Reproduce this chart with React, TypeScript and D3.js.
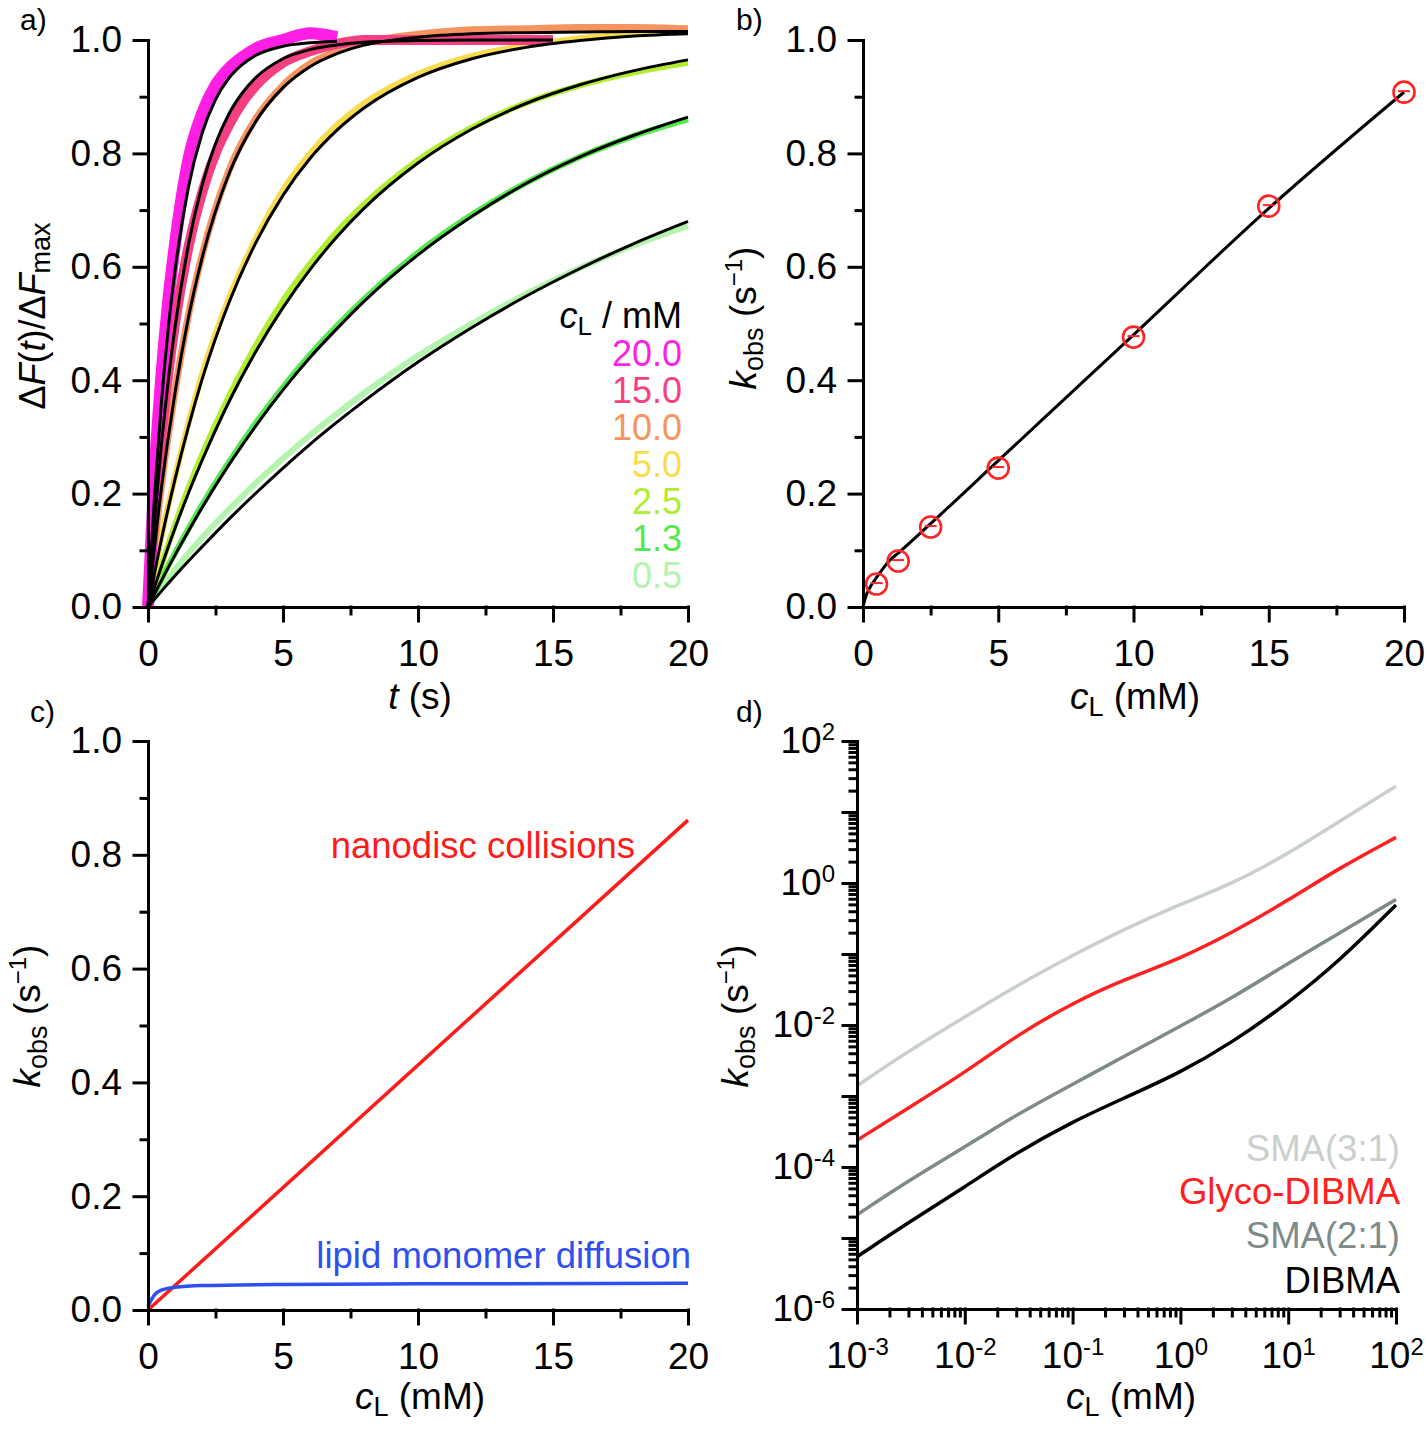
import * as d3 from 'd3';
import { useEffect, useRef } from 'react';

const FONT = "'Liberation Sans', Arial, Helvetica, sans-serif";
const WIDTH = 1427;
const HEIGHT = 1429;

// ---- a) normalised fluorescence traces, one per lipid concentration
const concLabels = ['20.0', '15.0', '10.0', '5.0', '2.5', '1.3', '0.5'];
const concColors = ['#ff1fe4', '#f43f83', '#f6945f', '#f8dc4c', '#b0ee2f', '#55e950', '#b4f4ae'];

const tShort = [0, 0.25, 0.5, 0.75, 1, 1.5, 2, 2.5, 3, 3.5, 4, 5, 6, 7];
const tMid = [0, 0.25, 0.5, 0.75, 1, 1.5, 2, 2.5, 3, 3.5, 4, 5, 6, 7, 8, 10, 12, 15];
const tLong = [0, 0.5, 1, 1.5, 2, 3, 4, 5, 6, 7, 8, 10, 12, 14, 16, 18, 20];

const fit20 = [0, 0.201, 0.362, 0.491, 0.593, 0.741, 0.835, 0.895, 0.933, 0.957, 0.973, 0.989, 0.995, 0.998];
const fit15 = [0, 0.156, 0.288, 0.399, 0.493, 0.639, 0.743, 0.817, 0.87, 0.907, 0.934, 0.967, 0.983, 0.991, 0.996, 0.999, 1.0, 1.0];
const fit10 = [0, 0.211, 0.378, 0.511, 0.615, 0.764, 0.857, 0.916, 0.953, 0.976, 0.991, 1.005, 1.011, 1.013, 1.014, 1.015, 1.015];
const fit5 = [0, 0.12, 0.225, 0.318, 0.401, 0.537, 0.643, 0.726, 0.791, 0.841, 0.88, 0.934, 0.967, 0.987, 0.999, 1.007, 1.011];
const fit2p5 = [0, 0.072, 0.139, 0.201, 0.258, 0.362, 0.451, 0.528, 0.595, 0.653, 0.703, 0.783, 0.843, 0.888, 0.921, 0.946, 0.965];
const fit1p3 = [0, 0.047, 0.0915, 0.134, 0.175, 0.251, 0.32, 0.383, 0.44, 0.491, 0.539, 0.621, 0.689, 0.747, 0.794, 0.832, 0.864];
const fit0p5 = [0, 0.028, 0.055, 0.081, 0.106, 0.155, 0.201, 0.245, 0.287, 0.326, 0.363, 0.432, 0.493, 0.548, 0.597, 0.641, 0.68];

const data20 = [0, 0.24, 0.41, 0.54, 0.64, 0.79, 0.87, 0.92, 0.95, 0.97, 0.985, 1.0, 1.012, 1.005];
const data15 = [0, 0.17, 0.3, 0.41, 0.5, 0.635, 0.73, 0.8, 0.85, 0.89, 0.92, 0.96, 0.98, 0.993, 1.0, 1.0, 1.0, 1.0];
const data10 = [0, 0.215, 0.38, 0.515, 0.62, 0.77, 0.862, 0.92, 0.958, 0.98, 0.995, 1.01, 1.018, 1.02, 1.022, 1.022, 1.02];
const data5 = [0, 0.125, 0.23, 0.325, 0.41, 0.545, 0.65, 0.735, 0.8, 0.85, 0.888, 0.94, 0.972, 0.99, 1.003, 1.01, 1.014];
const data2p5 = [0, 0.075, 0.145, 0.21, 0.268, 0.372, 0.462, 0.54, 0.605, 0.662, 0.71, 0.788, 0.846, 0.889, 0.92, 0.943, 0.96];
const data1p3 = [0, 0.05, 0.095, 0.138, 0.18, 0.256, 0.325, 0.388, 0.445, 0.496, 0.543, 0.625, 0.692, 0.748, 0.794, 0.831, 0.86];
const data0p5 = [0, 0.035, 0.066, 0.095, 0.122, 0.172, 0.219, 0.262, 0.303, 0.341, 0.377, 0.443, 0.5, 0.552, 0.598, 0.638, 0.672];

// ---- b) observed rate constants
const cObs = [0.5, 1.3, 2.5, 5, 10, 15, 20];
const kObs = [0.0405, 0.081, 0.141, 0.245, 0.476, 0.707, 0.908];
const cFitB = [0, 0.1, 0.25, 0.5, 1, 1.3, 2.5, 5, 10, 15, 20];
const kFitB = [0, 0.018, 0.034, 0.052, 0.083, 0.095, 0.147, 0.258, 0.48, 0.703, 0.908];

// ---- c) contributions to k_obs
const cNano = [0, 20];
const kNano = [0, 0.861];
const cLipid = [0, 0.1, 0.25, 0.5, 1, 2, 5, 10, 20];
const kLipid = [0.006, 0.016, 0.027, 0.035, 0.04, 0.043, 0.045, 0.046, 0.047];

// ---- d) simulated k_obs for the four polymers
const polymerNames = ['SMA(3:1)', 'Glyco-DIBMA', 'SMA(2:1)', 'DIBMA'];
const polymerColors = ['#c9cfcc', '#ff2020', '#7e8a87', '#000000'];
const cSim = [1e-3, 3e-3, 1e-2, 3e-2, 1e-1, 3e-1, 1, 3, 10, 30, 100];
const kSma31 = [1.39e-3, 4.3e-3, 1.3e-2, 3.55e-2, 9.6e-2, 0.223, 0.505, 0.968, 2.58, 7.43, 23.1];
const kGlyco = [2.38e-4, 6.8e-4, 2.13e-3, 7.08e-3, 2.05e-2, 4.37e-2, 8.63e-2, 0.198, 0.57, 1.64, 4.39];
const kSma21 = [2.12e-5, 6.4e-5, 1.9e-4, 5.47e-4, 1.46e-3, 3.61e-3, 9.64e-3, 2.39e-2, 7.41e-2, 0.198, 0.587];
const kDibma = [5.44e-6, 1.65e-5, 5.25e-5, 1.58e-4, 4.37e-4, 9.33e-4, 2.14e-3, 5.6e-3, 2.05e-2, 8.0e-2, 0.49];

const tracesA = [
    { label: concLabels[0], color: concColors[0], t: tShort, fit: fit20, data: data20, width: 12 },
    { label: concLabels[1], color: concColors[1], t: tMid, fit: fit15, data: data15, width: 10 },
    { label: concLabels[2], color: concColors[2], t: tLong, fit: fit10, data: data10, width: 7 },
    { label: concLabels[3], color: concColors[3], t: tLong, fit: fit5, data: data5, width: 6 },
    { label: concLabels[4], color: concColors[4], t: tLong, fit: fit2p5, data: data2p5, width: 6 },
    { label: concLabels[5], color: concColors[5], t: tLong, fit: fit1p3, data: data1p3, width: 6 },
    { label: concLabels[6], color: concColors[6], t: tLong, fit: fit0p5, data: data0p5, width: 6 },
];
const polymers = [
    { name: polymerNames[0], color: polymerColors[0], k: kSma31 },
    { name: polymerNames[1], color: polymerColors[1], k: kGlyco },
    { name: polymerNames[2], color: polymerColors[2], k: kSma21 },
    { name: polymerNames[3], color: polymerColors[3], k: kDibma },
];
const legendBaselineD = [1161, 1204, 1248, 1293];

// scales, one pair per panel
const xA = d3.scaleLinear([0, 20], [148, 688]);
const yA = d3.scaleLinear([0, 1], [607, 40]);
const xB = d3.scaleLinear([0, 20], [863, 1404]);
const yB = d3.scaleLinear([0, 1], [607, 40]);
const xC = d3.scaleLinear([0, 20], [148, 688]);
const yC = d3.scaleLinear([0, 1], [1310, 741]);
const xD = d3.scaleLog([1e-3, 1e2], [857, 1396]);
const yD = d3.scaleLog([1e-6, 1e2], [1309, 741]);

const linMajorX = [0, 5, 10, 15, 20];
const linMinorX = [2.5, 7.5, 12.5, 17.5];
const linMajorY = [0, 0.2, 0.4, 0.6, 0.8, 1.0];
const linMinorY = [0.1, 0.3, 0.5, 0.7, 0.9];
const isDecade = (v: number) => Math.abs(Math.log10(v) - Math.round(Math.log10(v))) < 1e-6;
const decX = xD.ticks().filter(isDecade);
const minX = xD.ticks().filter((v) => !isDecade(v));
const decY = yD.ticks().filter(isDecade);
const minY = yD.ticks().filter((v) => !isDecade(v));

const fmtX = d3.format('d');
const fmtY = d3.format('.1f');
const expX = (d: number) => String(Math.round(Math.log10(d)));
const expY = (d: number) => {
    const e = Math.round(Math.log10(d));
    return e % 2 === 0 ? String(e) : '';
};

function makeLine(x: (v: number) => number, y: (v: number) => number, xs: number[], curve: any = d3.curveMonotoneX) {
    return d3
        .line<number>()
        .x((_, i) => x(xs[i]))
        .y((d) => y(d))
        .curve(curve);
}

type AxisProps = {
    scale: any;
    orient: 'left' | 'bottom';
    at: number;
    major: number[];
    minor: number[];
    format: (d: number) => string;
    pad?: number;
    sup?: boolean;
};

function Axis({ scale, orient, at, major, minor, format, pad = 12, sup = false }: AxisProps) {
    const ref = useRef<SVGGElement>(null);
    useEffect(() => {
        const root = d3.select(ref.current);
        root.selectAll('*').remove();
        const gen = () => (orient === 'left' ? d3.axisLeft(scale) : d3.axisBottom(scale));
        root.append('g').call(gen().tickValues(minor).tickSize(7).tickSizeOuter(0).tickFormat(() => '') as any);
        const main = root
            .append('g')
            .call(gen().tickValues(major).tickSize(14).tickSizeOuter(0).tickPadding(pad).tickFormat(format as any) as any);
        root.selectAll('g').attr('font-family', FONT).attr('font-size', 37);
        root.selectAll('.domain, .tick line')
            .attr('stroke', '#000')
            .attr('stroke-width', 3)
            .attr('stroke-linecap', 'square');
        root.selectAll('.tick text').attr('fill', '#000');
        if (sup) {
            main.selectAll<SVGTextElement, number>('.tick text').each(function () {
                const el = d3.select(this);
                const s = el.text();
                if (!s) return;
                el.text(null);
                el.append('tspan').text('10');
                el.append('tspan').attr('font-size', 24).attr('dy', '-0.55em').text(s);
            });
        }
    }, [scale, orient, major, minor, format, pad, sup]);
    return <g ref={ref} transform={orient === 'left' ? `translate(${at},0)` : `translate(0,${at})`} />;
}

function KobsTitle({ x, y }: { x: number; y: number }) {
    return (
        <text transform={`translate(${x},${y}) rotate(-90)`} textAnchor="middle" fontSize={37}>
            <tspan fontStyle="italic">k</tspan>
            <tspan fontSize={27} dy={7}>obs</tspan>
            <tspan dy={-7}> (s</tspan>
            <tspan fontSize={24} dy={-14}>−1</tspan>
            <tspan dy={14}>)</tspan>
        </text>
    );
}

function ClTitle({ x, y }: { x: number; y: number }) {
    return (
        <text x={x} y={y} textAnchor="middle" fontSize={37}>
            <tspan fontStyle="italic">c</tspan>
            <tspan fontSize={27} dy={7}>L</tspan>
            <tspan dy={-7}> (mM)</tspan>
        </text>
    );
}

export default function App() {
    const lineB = makeLine(xB, yB, cFitB);
    const lineNano = makeLine(xC, yC, cNano);
    const lineLipid = makeLine(xC, yC, cLipid);
    const lineD = makeLine(xD, yD, cSim, d3.curveBasis);

    return (
        <div style={{ position: 'absolute', left: 0, top: 0 }}>
            <svg width={WIDTH} height={HEIGHT} style={{ display: 'block', fontFamily: FONT }}>
                <rect width={WIDTH} height={HEIGHT} fill="#fff" />

                {/* a) */}
                <g>
                    {tracesA
                        .slice()
                        .reverse()
                        .map((s) => (
                            <path
                                key={'d' + s.label}
                                d={makeLine(xA, yA, s.t)(s.data) ?? ''}
                                fill="none"
                                stroke={s.color}
                                strokeWidth={s.width}
                                strokeLinejoin="round"
                            />
                        ))}
                    {tracesA.map((s) => (
                        <path
                            key={'f' + s.label}
                            d={makeLine(xA, yA, s.t)(s.fit) ?? ''}
                            fill="none"
                            stroke="#000"
                            strokeWidth={3}
                        />
                    ))}
                    <Axis scale={xA} orient="bottom" at={607} major={linMajorX} minor={linMinorX} format={fmtX} pad={19} />
                    <Axis scale={yA} orient="left" at={148} major={linMajorY} minor={linMinorY} format={fmtY} />
                    <text transform="translate(45,316) rotate(-90)" textAnchor="middle" fontSize={36}>
                        Δ<tspan fontStyle="italic">F</tspan>(<tspan fontStyle="italic">t</tspan>)/Δ
                        <tspan fontStyle="italic">F</tspan>
                        <tspan fontSize={27} dy={5}>max</tspan>
                    </text>
                    <text x={420} y={709} textAnchor="middle" fontSize={37}>
                        <tspan fontStyle="italic">t</tspan> (s)
                    </text>
                    <text x={682} y={328} textAnchor="end" fontSize={36}>
                        <tspan fontStyle="italic">c</tspan>
                        <tspan fontSize={26} dy={7}>L</tspan>
                        <tspan dy={-7}> / mM</tspan>
                    </text>
                    {tracesA.map((s, i) => (
                        <text key={'l' + s.label} x={682} y={366 + i * 37} textAnchor="end" fontSize={36} fill={s.color}>
                            {s.label}
                        </text>
                    ))}
                    <text x={20} y={30} fontSize={30}>a)</text>
                </g>

                {/* b) */}
                <g>
                    <path d={lineB(kFitB) ?? ''} fill="none" stroke="#000" strokeWidth={3} />
                    {cObs.map((c, i) => (
                        <g key={'p' + c}>
                            <circle cx={xB(c)} cy={yB(kObs[i])} r={10.5} fill="none" stroke="#ff2424" strokeWidth={2.6} />
                            <line
                                x1={xB(c) - 6}
                                x2={xB(c) + 6}
                                y1={yB(kObs[i]) - 1}
                                y2={yB(kObs[i]) - 1}
                                stroke="#ff2424"
                                strokeWidth={2}
                            />
                        </g>
                    ))}
                    <Axis scale={xB} orient="bottom" at={607} major={linMajorX} minor={linMinorX} format={fmtX} pad={19} />
                    <Axis scale={yB} orient="left" at={863} major={linMajorY} minor={linMinorY} format={fmtY} />
                    <KobsTitle x={756} y={318} />
                    <ClTitle x={1135} y={709} />
                    <text x={736} y={30} fontSize={30}>b)</text>
                </g>

                {/* c) */}
                <g>
                    <path d={lineNano(kNano) ?? ''} fill="none" stroke="#ff1a1a" strokeWidth={3.5} />
                    <path d={lineLipid(kLipid) ?? ''} fill="none" stroke="#2f50ee" strokeWidth={3.5} />
                    <text x={635} y={858} textAnchor="end" fontSize={36.5} fill="#ff1a1a">
                        nanodisc collisions
                    </text>
                    <text x={691} y={1268} textAnchor="end" fontSize={36.5} fill="#2f50ee">
                        lipid monomer diffusion
                    </text>
                    <Axis scale={xC} orient="bottom" at={1310} major={linMajorX} minor={linMinorX} format={fmtX} pad={19} />
                    <Axis scale={yC} orient="left" at={148} major={linMajorY} minor={linMinorY} format={fmtY} />
                    <KobsTitle x={40} y={1016} />
                    <ClTitle x={420} y={1409} />
                    <text x={30} y={722} fontSize={30}>c)</text>
                </g>

                {/* d) */}
                <g>
                    {polymers.map((p) => (
                        <path key={p.name} d={lineD(p.k) ?? ''} fill="none" stroke={p.color} strokeWidth={3.5} />
                    ))}
                    {polymers.map((p, i) => (
                        <text key={'n' + p.name} x={1400} y={legendBaselineD[i]} textAnchor="end" fontSize={36.5} fill={p.color}>
                            {p.name}
                        </text>
                    ))}
                    <Axis scale={xD} orient="bottom" at={1309} major={decX} minor={minX} format={expX} pad={19} sup />
                    <Axis scale={yD} orient="left" at={857} major={decY} minor={minY} format={expY} pad={8} sup />
                    <KobsTitle x={748} y={1016} />
                    <ClTitle x={1131} y={1409} />
                    <text x={736} y={722} fontSize={30}>d)</text>
                </g>
            </svg>
        </div>
    );
}
